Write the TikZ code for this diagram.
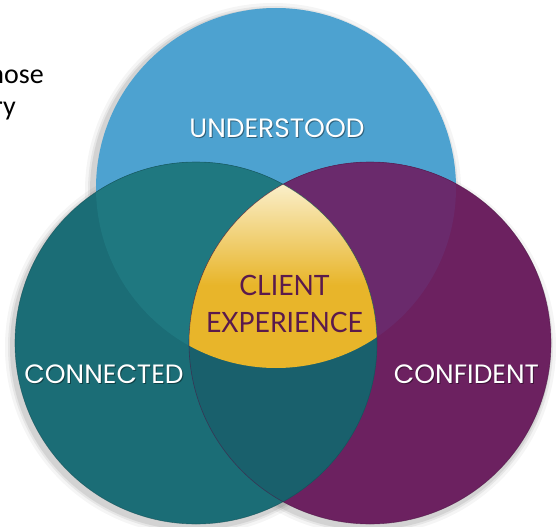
\documentclass[tikz,border=0pt]{standalone}
\usepackage{fontspec}
\newfontfamily\lblfont{Poppins}
\newfontfamily\ctrfont{Lato}
\newfontfamily\bodyfont{Carlito}
\definecolor{cblue}{HTML}{4DA2D0}
\definecolor{cteal}{HTML}{1B6D76}
\definecolor{ctealtop}{HTML}{1F7880}
\definecolor{ctealdark}{HTML}{19606C}
\definecolor{cpurple}{HTML}{6C2160}
\definecolor{cpurpletop}{HTML}{6A2A6C}
\definecolor{cgold}{HTML}{E8B52A}
\definecolor{ccream}{HTML}{FBF1D0}
\definecolor{ctext}{HTML}{5A1A4C}
\tikzset{
  lbl/.style={font=\lblfont\fontsize{26.5}{30}\selectfont, text=white, inner sep=0pt, anchor=base},
  lblshadow/.style={lbl, text=black, opacity=0.4},
  ctr/.style={font=\ctrfont\fontsize{28}{32}\selectfont, text=ctext, inner sep=0pt, anchor=base, xscale=0.95},
  body/.style={font=\bodyfont\fontsize{28}{32}\selectfont, text=black, inner sep=0pt, anchor=base east},
}
\begin{document}
\begin{tikzpicture}[x=1pt,y=-1pt]
\useasboundingbox (0,0) rectangle (557,527);
\fill[white] (0,0) rectangle (557,527);
% coordinates of circle centres
\coordinate (T) at (276,188);
\coordinate (L) at (196,343);
\coordinate (R) at (370,343);
% soft shadows
\foreach \r/\o in {188/0.04,185/0.06,183/0.08}{
  \fill[black,opacity=\o] ([shift={(-3,4)}]L) circle (\r pt);
  \fill[black,opacity=\o] ([shift={(-2,4)}]R) circle (\r pt);
  \fill[black,opacity=\o] ([shift={(-3,3)}]T) circle (\r pt);
}
% top circle
\fill[cblue] (T) circle (180pt);
% right circle
\fill[cpurple] (R) circle (181pt);
\begin{scope}
  \clip (T) circle (180pt);
  \fill[cpurpletop] (R) circle (181pt);
\end{scope}
% left circle
\fill[cteal] (L) circle (181pt);
\begin{scope}
  \clip (T) circle (180pt);
  \fill[ctealtop] (L) circle (181pt);
\end{scope}
\begin{scope}
  \clip (R) circle (181pt);
  \fill[ctealdark] (L) circle (181pt);
\end{scope}
% centre region
\begin{scope}
  \clip (T) circle (180pt);
  \clip (L) circle (181pt);
  \clip (R) circle (181pt);
  \fill[cgold] (150,170) rectangle (420,380);
  \fill[top color=ccream, bottom color=cgold] (150,180) rectangle (420,285);
\end{scope}
% outlines
\draw[cteal!70!black, line width=0.6pt, opacity=0.6] (L) circle (181pt);
\draw[cpurple!70!black, line width=0.6pt, opacity=0.6] (R) circle (181pt);
% labels
\node[lblshadow] (us) at (278,138.5) {UNDERSTOOD};
\node[lbl] (u) at (277,137) {UNDERSTOOD};
\node[lblshadow] (cns) at (105,384.5) {CONNECTED};
\node[lbl] (cn) at (104,383) {CONNECTED};
\node[lblshadow] (cfs) at (467.5,384.5) {CONFIDENT};
\node[lbl] (cf) at (466.5,383) {CONFIDENT};
\node[ctr] (c1) at (284.5,295) {CLIENT};
\node[ctr] (c2) at (284.5,332) {EXPERIENCE};
% cut-off text at top left
\node[body] (t1) at (44,84) {hose};
\node[body] (t2) at (16,115) {ry};
\end{tikzpicture}
\end{document}
